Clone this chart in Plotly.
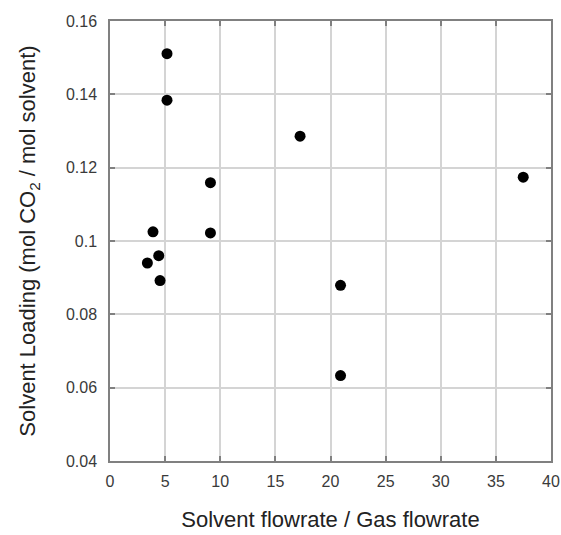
import plotly.graph_objects as go

# Solvent flowrate / gas flowrate ratio vs. measured solvent loading
flow_ratio = [5.17, 5.17, 17.24, 9.11, 37.48, 3.90, 9.11, 4.42, 3.39, 4.54, 20.91, 20.91]
loading = [0.1511, 0.1384, 0.1286, 0.1159, 0.1174, 0.1025, 0.1022, 0.0960, 0.0940, 0.0892, 0.0879, 0.0633]

x_ticks = [0, 5, 10, 15, 20, 25, 30, 35, 40]
y_ticks = [0.04, 0.06, 0.08, 0.1, 0.12, 0.14, 0.16]
y_tick_text = ["0.04", "0.06", "0.08", "0.1", "0.12", "0.14", "0.16"]

font_family = "Liberation Sans, Arial, sans-serif"

fig = go.Figure(
    go.Scatter(
        x=flow_ratio,
        y=loading,
        mode="markers",
        marker=dict(color="black", size=11),
        hoverinfo="x+y",
    )
)

axis_common = dict(
    showgrid=True,
    gridcolor="#d4d4d4",
    gridwidth=1.5,
    showline=True,
    linecolor="#808080",
    linewidth=1.5,
    mirror="ticks",
    ticks="inside",
    ticklen=5,
    tickcolor="#808080",
    tickwidth=1.5,
    zeroline=False,
    automargin=False,
    tickfont=dict(family=font_family, size=16, color="#3a3a3a"),
)

fig.update_layout(
    width=561,
    height=535,
    margin=dict(l=110, r=10, t=21, b=74),
    paper_bgcolor="white",
    plot_bgcolor="white",
    showlegend=False,
    xaxis=dict(
        range=[0, 40],
        tickvals=x_ticks,
        ticklabelstandoff=5,
        title=dict(
            text="Solvent flowrate / Gas flowrate",
            font=dict(family=font_family, size=22, color="#222222"),
            standoff=23,
        ),
        **axis_common,
    ),
    yaxis=dict(
        range=[0.04, 0.16],
        tickvals=y_ticks,
        ticktext=y_tick_text,
        ticklabelstandoff=8,
        title=dict(
            text="Solvent Loading (mol CO<sub>2</sub> / mol solvent)",
            font=dict(family=font_family, size=22, color="#222222"),
            standoff=24,
        ),
        **axis_common,
    ),
)

fig.write_html("out.html")
